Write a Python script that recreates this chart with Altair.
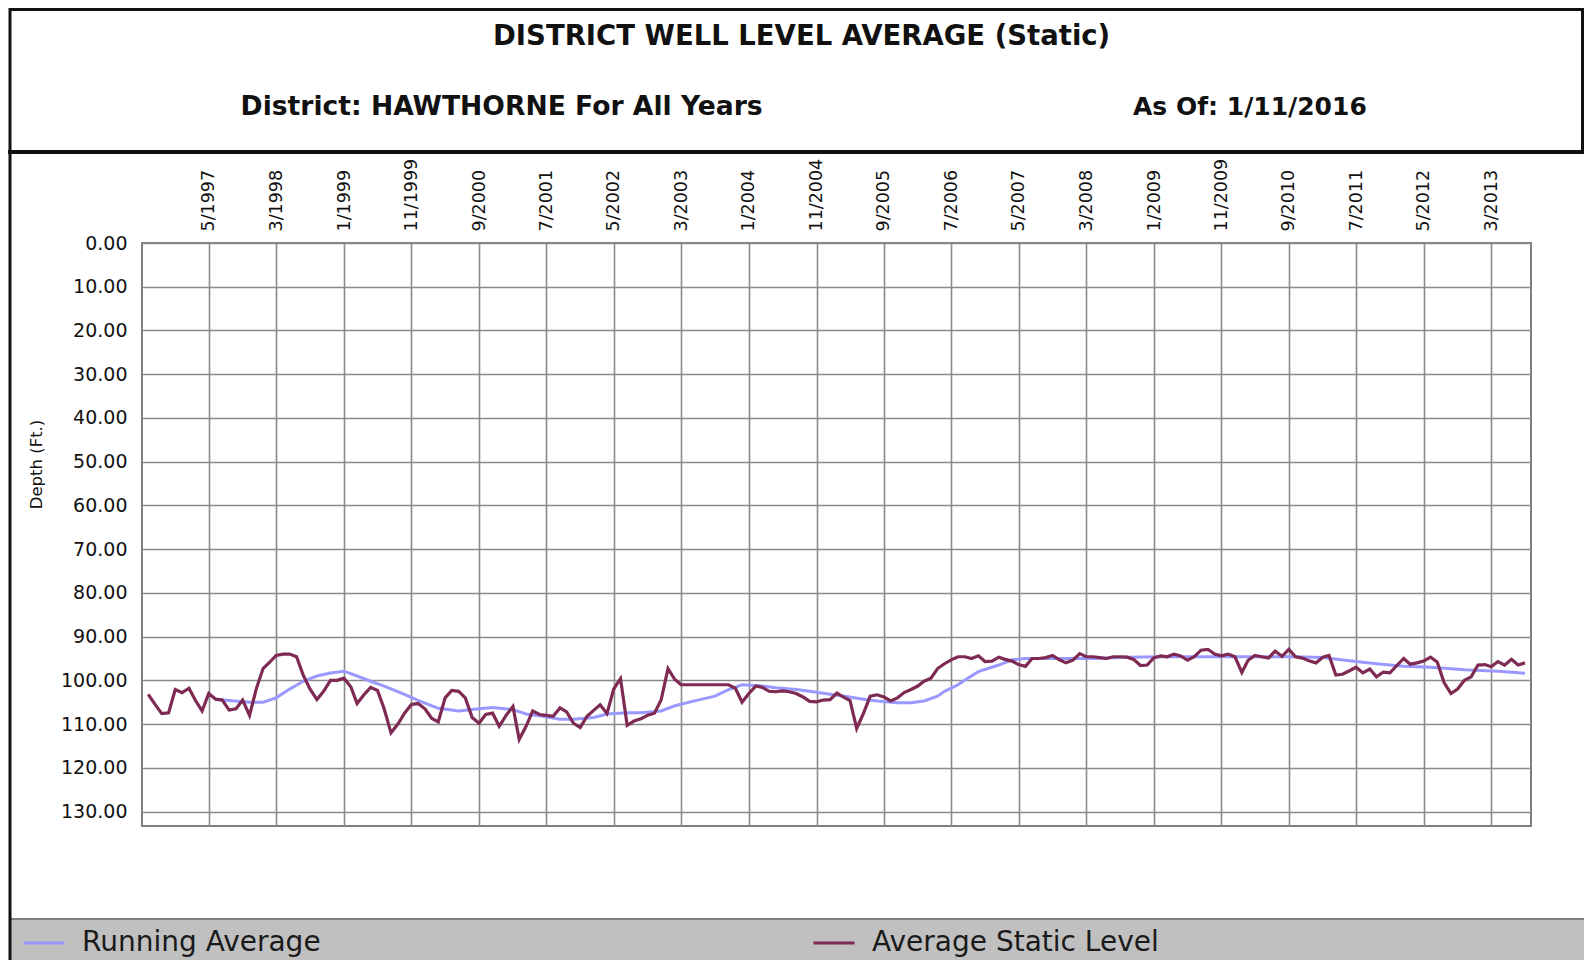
import altair as alt
import pandas as pd

# ---------------- data ----------------
START_YEAR, START_MONTH = 1996, 8  # first monthly reading (Aug 1996)

static_level = [
    103.2, 105.5, 107.6, 107.4, 102.1, 102.8, 101.8, 104.5, 107.0, 103.0,
    104.3, 104.5, 106.8, 106.5, 104.5, 108.0, 102.0, 97.3, 95.8, 94.3,
    94.0, 94.0, 94.6, 98.8, 102.0, 104.4, 102.5, 100.0, 100.0, 99.5,
    101.5, 105.3, 103.3, 101.6, 102.3, 106.5, 112.0, 110.0, 107.5, 105.5,
    105.3, 106.5, 108.7, 109.5, 104.0, 102.3, 102.5, 104.0, 108.5, 109.8,
    107.8, 107.5, 110.5, 108.0, 106.0, 113.5, 110.5, 107.0, 107.8, 108.0,
    108.2, 106.3, 107.2, 109.8, 110.8, 108.2, 106.8, 105.6, 107.6, 102.0,
    99.6, 110.3, 109.3, 108.8, 108.0, 107.5, 104.5, 97.3, 99.8, 101.0,
    101.0, 101.0, 101.0, 101.0, 101.0, 101.0, 101.0, 101.8, 105.0, 103.0,
    101.3, 101.6, 102.5, 102.6, 102.4, 102.6, 103.0, 103.8, 104.8, 104.9,
    104.5, 104.4, 102.9, 103.8, 104.6, 111.0, 107.5, 103.6, 103.3, 103.8,
    104.7, 104.0, 102.8, 102.1, 101.3, 100.2, 99.5, 97.3, 96.2, 95.3,
    94.6, 94.6, 95.0, 94.4, 95.7, 95.6, 94.7, 95.2, 95.6, 96.4,
    96.8, 95.0, 95.0, 94.8, 94.3, 95.3, 96.0, 95.4, 93.9, 94.6,
    94.6, 94.8, 95.0, 94.6, 94.6, 94.7, 95.2, 96.6, 96.5, 94.8,
    94.4, 94.6, 94.0, 94.4, 95.4, 94.6, 93.1, 92.9, 94.0, 94.4,
    94.0, 94.6, 98.2, 95.4, 94.3, 94.6, 94.9, 93.3, 94.5, 92.9,
    94.6, 94.9, 95.5, 96.0, 94.7, 94.3, 98.8, 98.6, 97.8, 97.0,
    98.3, 97.4, 99.2, 98.1, 98.3, 96.6, 95.0, 96.3, 96.0, 95.6,
    94.7, 95.8, 100.5, 103.0, 102.0, 100.0, 99.2, 96.5, 96.4, 96.9,
    95.7, 96.5, 95.2, 96.5, 96.0,
]

# running average: month index (months after Aug 1996) and depth
ravg_month_index = [
    10, 12, 15, 17, 19, 21, 23, 25, 27, 29, 31, 33, 35, 38, 40, 43, 46, 49,
    51, 54, 56, 58, 61, 63, 66, 68, 71, 73, 76, 78, 81, 84, 86, 88, 91, 93,
    96, 98, 101, 103, 106, 108, 111, 113, 115, 117, 118, 120, 121, 123, 126,
    128, 130, 134, 140, 145, 150, 155, 160, 165, 170, 174, 178, 182, 186,
    190, 195, 200, 204,
]
ravg_values = [
    104.3, 104.6, 105.0, 105.0, 104.0, 102.0, 100.2, 99.0, 98.3, 97.9, 99.0,
    100.2, 101.3, 103.2, 104.6, 106.4, 107.0, 106.5, 106.2, 106.7, 107.7,
    108.1, 108.9, 108.9, 108.5, 107.7, 107.4, 107.4, 107.0, 105.8, 104.7,
    103.6, 102.1, 101.0, 101.3, 101.7, 102.1, 102.5, 103.2, 103.6, 104.3,
    104.7, 105.1, 105.1, 104.7, 103.6, 102.5, 101.0, 99.9, 98.0, 96.5, 95.3,
    95.0, 95.0, 95.0, 94.7, 94.6, 94.6, 94.6, 94.6, 94.6, 94.8, 95.5, 96.2,
    96.8, 97.0, 97.6, 97.9, 98.4,
]

tick_labels = [
    "5/1997", "3/1998", "1/1999", "11/1999", "9/2000", "7/2001", "5/2002",
    "3/2003", "1/2004", "11/2004", "9/2005", "7/2006", "5/2007", "3/2008",
    "1/2009", "11/2009", "9/2010", "7/2011", "5/2012", "3/2013",
]
y_ticks = [0, 10, 20, 30, 40, 50, 60, 70, 80, 90, 100, 110, 120, 130]

series_names = ["Running Average", "Average Static Level"]
series_colors = ["#9999FF", "#7E2A52"]


def month_date(i):
    k = START_MONTH - 1 + i
    return f"{START_YEAR + k // 12:04d}-{k % 12 + 1:02d}-01T00:00:00"


static_df = pd.DataFrame({
    "date": [month_date(i) for i in range(len(static_level))],
    "depth": static_level,
    "series": series_names[1],
})
ravg_df = pd.DataFrame({
    "date": [month_date(i) for i in ravg_month_index],
    "depth": ravg_values,
    "series": series_names[0],
})

tick_values = []
for lab in tick_labels:
    m, y = lab.split("/")
    tick_values.append(alt.DateTime(year=int(y), month=int(m), date=1))

FONT = "DejaVu Sans"
W, H = 1389, 583
PAD_L, PAD_T = 134, 235
OX, OY = 8 + PAD_L, 8 + PAD_T  # page position of plot origin


def gx(px):
    return px - OX


def gy(py):
    return py - OY


x_enc = alt.X(
    "date:T",
    scale=alt.Scale(domain=[alt.DateTime(year=1996, month=7, date=4),
                            alt.DateTime(year=2013, month=8, date=28)]),
    axis=alt.Axis(
        orient="top", values=tick_values, format="%-m/%Y", labelAngle=270,
        labelAlign="left", labelBaseline="middle", labelPadding=12,
        labelFont=FONT, labelFontSize=17.5, labelColor="#111111",
        labelOverlap=False, labelFlush=False, ticks=False, domain=False,
        grid=True, gridColor="#8a8a8a", gridWidth=1.6, title=None,
    ),
)
y_enc = alt.Y(
    "depth:Q",
    scale=alt.Scale(domain=[0, 133.3], reverse=True, nice=False, zero=False),
    axis=alt.Axis(
        values=y_ticks, format=".2f", labelFont=FONT, labelFontSize=19,
        labelColor="#111111", labelPadding=15, labelFlush=False,
        labelOverlap=False, ticks=False, domain=False, grid=True,
        gridColor="#8a8a8a", gridWidth=1.6, title="Depth (Ft.)",
        titleFont=FONT, titleFontSize=16.5, titleFontWeight="normal",
        titleColor="#111111", titleAngle=270, titleAlign="center",
        titleBaseline="middle", titleX=gx(36.5), titleY=gy(464),
    ),
)
color_enc = alt.Color(
    "series:N",
    scale=alt.Scale(domain=series_names, range=series_colors),
    legend=alt.Legend(
        title=None, orient="none", direction="horizontal", columns=2,
        legendX=gx(22), legendY=gy(921), columnPadding=486,
        labelFont=FONT, labelFontSize=28, labelColor="#1a1a1a",
        labelLimit=600, labelOffset=16, symbolType="stroke",
        symbolSize=1681, symbolStrokeWidth=3, padding=0,
    ),
)

ravg_line = alt.Chart(ravg_df).mark_line(strokeWidth=3).encode(
    x=x_enc, y=y_enc, color=color_enc)
static_line = alt.Chart(static_df).mark_line(strokeWidth=3.2).encode(
    x=x_enc, y=y_enc, color=color_enc)

one = pd.DataFrame({"k": [0]})

band = alt.Chart(one).mark_rect(color="#c0c0c0").encode(
    x=alt.value(gx(10)), x2=alt.value(gx(1584)),
    y=alt.value(gy(919)), y2=alt.value(gy(960)))
band_line = alt.Chart(one).mark_rule(color="#7f7f7f", strokeWidth=2).encode(
    x=alt.value(gx(10)), x2=alt.value(gx(1584)), y=alt.value(gy(919)))
header = alt.Chart(one).mark_rect(
    fill="white", fillOpacity=0, stroke="#111111", strokeWidth=3).encode(
    x=alt.value(gx(10)), x2=alt.value(gx(1582.5)),
    y=alt.value(gy(9.5)), y2=alt.value(gy(151.5)))
header_bottom = alt.Chart(one).mark_rule(color="#111111", strokeWidth=4).encode(
    x=alt.value(gx(8)), x2=alt.value(gx(1584)), y=alt.value(gy(152)))
left_border = alt.Chart(one).mark_rule(color="#111111", strokeWidth=3).encode(
    x=alt.value(gx(10)), y=alt.value(gy(150)), y2=alt.value(gy(960)))

title_txt = alt.Chart(one).mark_text(
    font=FONT, fontSize=27.5, fontWeight="bold", align="center",
    baseline="alphabetic", color="#111111").encode(
    x=alt.value(gx(801.6)), y=alt.value(gy(45)),
    text=alt.value("DISTRICT WELL LEVEL AVERAGE (Static)"))
sub_left = alt.Chart(one).mark_text(
    font=FONT, fontSize=26.6, fontWeight="bold", align="left",
    baseline="alphabetic", color="#111111").encode(
    x=alt.value(gx(240.6)), y=alt.value(gy(114.5)),
    text=alt.value("District: HAWTHORNE For All Years"))
sub_right = alt.Chart(one).mark_text(
    font=FONT, fontSize=25, fontWeight="bold", align="left",
    baseline="alphabetic", color="#111111").encode(
    x=alt.value(gx(1133)), y=alt.value(gy(114.5)),
    text=alt.value("As Of: 1/11/2016"))

chart = alt.layer(
    band, band_line, header, header_bottom, left_border,
    title_txt, sub_left, sub_right, ravg_line, static_line,
).properties(
    width=W, height=H,
    padding={"left": PAD_L, "top": PAD_T, "right": 1576 - PAD_L - W,
             "bottom": 952 - PAD_T - H},
    autosize=alt.AutoSizeParams(type="none"),
    background="white",
).configure_view(
    stroke="#808080", strokeWidth=2,
)

chart.save("out.html", embed_options={"renderer": "svg", "actions": False})
